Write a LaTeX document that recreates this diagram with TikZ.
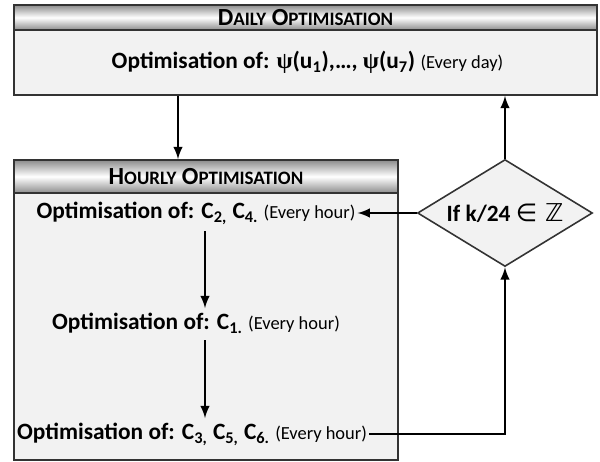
\documentclass[tikz,border=0pt]{standalone}
\usepackage{fontspec}
\setmainfont{Carlito}
\newfontfamily\greekfont{Liberation Serif}
\newfontfamily\mathsymfont{DejaVu Sans}
\usetikzlibrary{shapes.geometric,arrows,positioning,calc}

\newcommand{\smcaps}[2]{#1{\fontsize{10.8}{12}\selectfont #2}}
\newcommand{\sub}[1]{\textsubscript{#1}}
\newcommand{\every}[1]{{\mdseries\fontsize{10.5}{12}\selectfont (Every #1)}}

\tikzset{
  box/.style={rectangle, draw=black!80, line width=0.9pt, fill=black!5, inner sep=0pt},
  headbox/.style={rectangle, draw=black!80, line width=0.9pt, top color=black!45, bottom color=black!45, middle color=white, inner sep=0pt, font=\bfseries\fontsize{14}{15}\selectfont},
  step text/.style={font=\bfseries\fontsize{13.3}{15}\selectfont, inner sep=1pt},
  flow/.style={->, >=latex, line width=1.4pt}
}

\begin{document}
\begin{tikzpicture}
\useasboundingbox (0,0) rectangle (12,-9.24);
% daily level
\node[box, minimum width=11.66cm, minimum height=1.3cm] (daily) at (6.11,-1.25) {};
\node[headbox, minimum width=11.66cm, minimum height=0.5cm] (dayhead) at (6.11,-0.35) {\smcaps{D}{AILY} \smcaps{O}{PTIMISATION}};
\node[step text] (psi) at (6.15,-1.25) {Optimisation of: {\greekfont ψ}(u\sub{1}),\dots, {\greekfont ψ}(u\sub{7}) \every{day}};
% hourly level
\node[box, minimum width=7.68cm, minimum height=6cm] (hourly) at (4.12,-6.20) {};
\node[headbox, minimum width=7.68cm, minimum height=0.66cm] (hourhead) at (4.12,-3.53) {\smcaps{H}{OURLY} \smcaps{O}{PTIMISATION}};
\node[step text] (c24) at (3.92,-4.26) {Optimisation of: C\sub{2,} C\sub{4.} \every{hour}};
\node[step text] (c1) at (3.92,-6.46) {Optimisation of: C\sub{1.} \every{hour}};
\node[step text, anchor=west] (c356) at (0.30,-8.68) {Optimisation of: C\sub{3,} C\sub{5,} C\sub{6.} \every{hour}};
% test
\node[diamond, draw=black!80, line width=0.9pt, fill=black!5, minimum width=3.5cm, minimum height=2.14cm, inner sep=0pt, aspect=1.6] (cond) at (10.10,-4.26) {\bfseries\fontsize{13.3}{15}\selectfont If k/24 {\mdseries\mathsymfont\fontsize{14}{14}\selectfont ∈ ℤ}};

\coordinate (dx) at (3.56,0);
\coordinate (hx) at (4.10,0);
\draw[flow] (daily.south -| dx) -- (hourhead.north -| dx);
\draw[flow] (cond.north) -- (cond.north |- daily.south);
\draw[flow] (cond.west) -- (c24.east);
\draw[flow] ($(c24.south -| hx)+(0,-0.1)$) -- ($(c1.north -| hx)+(0,0.05)$);
\draw[flow] ($(c1.south -| hx)+(0,-0.1)$) -- ($(c356.north -| hx)+(0,0.05)$);
\draw[flow] (c356.east) -| (cond.south);
\end{tikzpicture}
\end{document}
